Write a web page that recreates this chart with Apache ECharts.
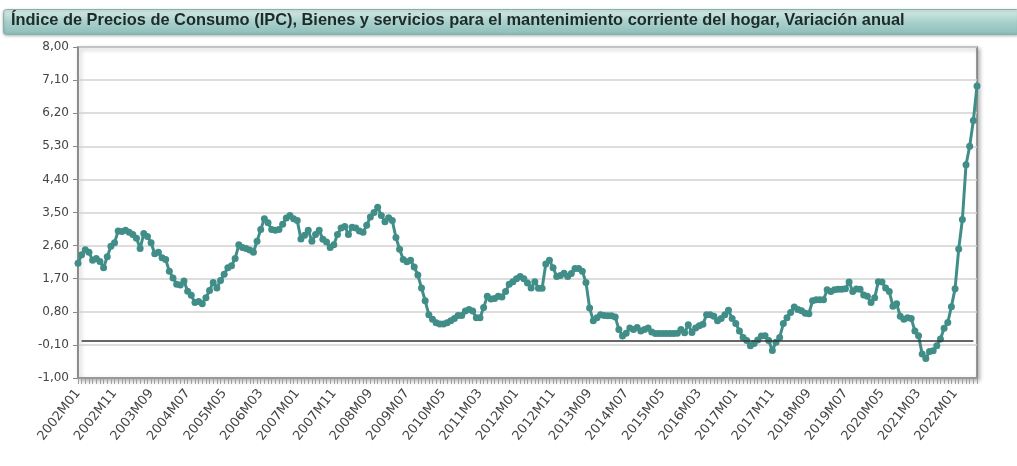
<!DOCTYPE html>
<html>
<head>
<meta charset="utf-8">
<script src="https://cdn.jsdelivr.net/npm/echarts@6/dist/echarts.min.js"></script>
<style>
	html, body { margin: 0; padding: 0; background: #fff; }
	#chart { width: 1017px; height: 466px; }
</style>
</head>
<body>
<div id="chart"></div>
<script>
	// titulo del grafico
	const titulo = 'Índice de Precios de Consumo (IPC), Bienes y servicios para el mantenimiento corriente del hogar, Variación anual';

	// meses 2002M01 .. 2022M07
	const anioInicio = 2002;
	const numMeses = 247;
	const meses = [];
	for (let i = 0; i < numMeses; i++) {
		const a = anioInicio + Math.floor(i / 12);
		const m = (i % 12) + 1;
		meses.push(a + 'M' + (m < 10 ? '0' + m : m));
	}

	// variacion anual (%), una fila por año
	const variacion = [
		2.12, 2.35, 2.49, 2.42, 2.20, 2.25, 2.17, 2.00, 2.30, 2.58, 2.68, 3.00, // 2002
		2.98, 3.02, 2.96, 2.90, 2.80, 2.52, 2.93, 2.85, 2.68, 2.38, 2.42, 2.27, // 2003
		2.22, 1.90, 1.72, 1.55, 1.53, 1.64, 1.36, 1.25, 1.05, 1.08, 1.02, 1.18, // 2004
		1.38, 1.60, 1.45, 1.65, 1.82, 2.00, 2.05, 2.25, 2.62, 2.55, 2.52, 2.48, // 2005
		2.42, 2.72, 3.04, 3.33, 3.22, 3.04, 3.02, 3.04, 3.18, 3.35, 3.42, 3.33, // 2006
		3.28, 2.78, 2.88, 3.02, 2.72, 2.90, 3.02, 2.77, 2.70, 2.55, 2.62, 2.90, // 2007
		3.08, 3.12, 2.90, 3.10, 3.08, 3.00, 2.96, 3.15, 3.38, 3.50, 3.64, 3.42, // 2008
		3.25, 3.36, 3.28, 2.82, 2.50, 2.22, 2.16, 2.20, 2.02, 1.80, 1.45, 1.10, // 2009
		0.72, 0.60, 0.50, 0.47, 0.47, 0.50, 0.56, 0.62, 0.70, 0.70, 0.82, 0.86, // 2010
		0.82, 0.64, 0.64, 0.92, 1.22, 1.15, 1.16, 1.22, 1.20, 1.35, 1.55, 1.62, // 2011
		1.70, 1.76, 1.70, 1.58, 1.45, 1.62, 1.44, 1.44, 2.10, 2.20, 2.00, 1.76, // 2012
		1.79, 1.85, 1.76, 1.84, 1.98, 1.98, 1.90, 1.60, 0.90, 0.56, 0.64, 0.72, // 2013
		0.70, 0.69, 0.69, 0.66, 0.32, 0.14, 0.22, 0.36, 0.32, 0.37, 0.28, 0.32, // 2014
		0.36, 0.25, 0.21, 0.21, 0.21, 0.21, 0.21, 0.21, 0.22, 0.32, 0.23, 0.45, // 2015
		0.24, 0.36, 0.42, 0.46, 0.72, 0.72, 0.68, 0.56, 0.62, 0.72, 0.84, 0.62, // 2016
		0.48, 0.28, 0.10, 0.02, -0.12, -0.06, 0.03, 0.14, 0.15, 0.02, -0.25, -0.03, // 2017
		0.10, 0.48, 0.64, 0.78, 0.93, 0.86, 0.83, 0.76, 0.75, 1.10, 1.13, 1.13, // 2018
		1.13, 1.40, 1.35, 1.40, 1.41, 1.41, 1.43, 1.61, 1.35, 1.42, 1.41, 1.26, // 2019
		1.22, 1.05, 1.18, 1.62, 1.61, 1.45, 1.35, 0.95, 1.02, 0.68, 0.60, 0.64, // 2020
		0.62, 0.28, 0.15, -0.35, -0.47, -0.28, -0.26, -0.12, 0.06, 0.35, 0.51, 0.94, // 2021
		1.43, 2.51, 3.31, 4.80, 5.30, 6.00, 6.94 // 2022
	];

	// marcas del eje Y
	const yTicks = [-1.00, -0.10, 0.80, 1.70, 2.60, 3.50, 4.40, 5.30, 6.20, 7.10, 8.00];

	const chart = echarts.init(document.getElementById('chart'));
	const colorLinea = '#418e88';
	const fuenteEje = '"DejaVu Sans", Verdana, sans-serif';

	const option = {
		animation: false,
		backgroundColor: '#fff',
		// banda del titulo
		graphic: [{
				type: 'rect',
				left: 3,
				top: 9,
				shape: { width: 1016, height: 25, r: 3 },
				style: {
					fill: new echarts.graphic.LinearGradient(0, 0, 0, 1, [
						{ offset: 0, color: '#d9ece9' },
						{ offset: 0.5, color: '#a9d0cb' },
						{ offset: 1, color: '#8cbdb7' }
					]),
					stroke: '#86b2ad',
					lineWidth: 1,
					shadowColor: 'rgba(0,0,0,0.25)',
					shadowBlur: 3,
					shadowOffsetY: 1
				}
			},
			{
				type: 'text',
				left: 11,
				top: 12,
				style: {
					text: titulo,
					fill: '#1d2b2b',
					font: 'bold 16.4px "Liberation Sans", Arial, sans-serif'
				}
			}
		],
		grid: {
			left: 78,
			right: 40,
			top: 47,
			bottom: 88,
			show: true,
			backgroundColor: '#fff',
			borderColor: '#7a7a7a',
			borderWidth: 1.5,
			shadowColor: 'rgba(0,0,0,0.3)',
			shadowBlur: 4,
			shadowOffsetX: 2,
			shadowOffsetY: 2
		},
		xAxis: {
			type: 'category',
			data: meses,
			boundaryGap: false,
			axisLine: {
				onZero: false,
				lineStyle: { color: '#8a8a8a', width: 1.5 }
			},
			axisTick: {
				interval: 0,
				length: 6,
				lineStyle: { color: '#a0a0a0' }
			},
			axisLabel: {
				interval: 9,
				rotate: 52,
				color: '#444',
				fontSize: 13,
				fontFamily: fuenteEje,
				margin: 13
			},
			splitLine: { show: false }
		},
		yAxis: {
			type: 'value',
			min: -1,
			max: 8,
			axisLine: {
				show: true,
				lineStyle: { color: '#8a8a8a', width: 1.5 }
			},
			axisTick: {
				show: true,
				length: 5,
				customValues: yTicks,
				lineStyle: { color: '#8a8a8a' }
			},
			axisLabel: {
				customValues: yTicks,
				color: '#444',
				fontSize: 12,
				fontFamily: fuenteEje,
				margin: 9,
				formatter: function(v) {
					return v.toFixed(2).replace('.', ',');
				}
			},
			splitLine: {
				lineStyle: { color: '#d2d2d2', width: 1.5 }
			}
		},
		series: [{
			type: 'line',
			data: variacion,
			showSymbol: true,
			showAllSymbol: true,
			symbol: 'circle',
			symbolSize: 7,
			itemStyle: { color: colorLinea },
			lineStyle: { color: colorLinea, width: 3 },
			z: 3,
			markLine: {
				silent: true,
				symbol: 'none',
				label: { show: false },
				lineStyle: { color: '#333', width: 1.5, type: 'solid' },
				data: [
					[{ coord: [meses[1], 0] }, { coord: [meses[numMeses - 2], 0] }]
				]
			}
		}]
	};
	chart.setOption(option);
</script>
</body>
</html>
